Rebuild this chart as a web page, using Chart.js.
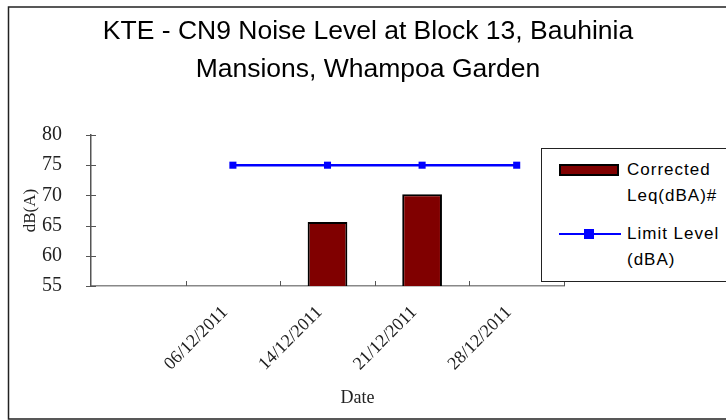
<!DOCTYPE html>
<html>
<head>
<meta charset="utf-8">
<script src="https://cdn.jsdelivr.net/npm/chart.js@4"></script>
<style>
  body { margin: 0; background: #fff; }
  #wrap { position: relative; width: 726px; height: 420px; overflow: hidden; }
  #legend {
    position: absolute; left: 541px; top: 148px; width: 200px; height: 134px;
    border: 1px solid #222; box-sizing: border-box; background: #fff;
    font-family: "Liberation Sans", Arial, sans-serif; font-size: 17px; letter-spacing: 1px; color: #000;
  }
  .item { position: absolute; left: 0; }
  .txt { position: absolute; left: 85px; top: 0; line-height: 26px; white-space: nowrap; }
  .bar { position: absolute; left: 17px; top: 7px; width: 56px; height: 8px; background: #800000; border: 2px solid #000; }
  .line { position: absolute; left: 17px; top: 12px; width: 62px; height: 2px; background: #0000ff; }
  .mark { position: absolute; left: 25px; top: -4px; width: 10px; height: 10px; background: #0000ff; }
</style>
</head>
<body>
<div id="wrap">
  <canvas id="noise-chart" width="726" height="420"></canvas>
  <div id="legend">
    <div class="item" style="top:8px"><div class="bar"></div><div class="txt">Corrected<br>Leq(dBA)#</div></div>
    <div class="item" style="top:72px"><div class="line"><div class="mark"></div></div><div class="txt">Limit Level<br>(dBA)</div></div>
  </div>
</div>
<script>
// Chart data
const dates = ['', '06/12/2011', '14/12/2011', '21/12/2011', '28/12/2011'];
const correctedLeq = [null, null, 65.6, 70.2, null];
const limitLevel = [null, 75, 75, 75, 75];
const titleLines = ['KTE - CN9 Noise Level at Block 13, Bauhinia', 'Mansions, Whampoa Garden'];

// outer frame, tick marks and the x axis title
const framePlugin = {
    id: 'frame',
    beforeDraw(chart) {
        const ctx = chart.ctx;
        ctx.save();
        ctx.strokeStyle = '#222';
        ctx.lineWidth = 1.5;
        ctx.beginPath();
        ctx.moveTo(740, 7);
        ctx.lineTo(8.5, 7);
        ctx.lineTo(8.5, 419);
        ctx.lineTo(740, 419);
        ctx.stroke();
        ctx.restore();
    },
    afterDraw(chart) {
        const ctx = chart.ctx;
        const x = chart.scales.x;
        const y = chart.scales.y;
        const area = chart.chartArea;
        ctx.save();
        ctx.strokeStyle = '#555';
        ctx.lineWidth = 1;
        ctx.beginPath();
        y.ticks.forEach(t => {
            const py = Math.round(y.getPixelForValue(t.value)) + 0.5;
            ctx.moveTo(area.left - 5, py);
            ctx.lineTo(area.left + 5, py);
        });
        const half = (x.getPixelForValue(1) - x.getPixelForValue(0)) / 2;
        for (let i = 0; i < dates.length; i++) {
            const px = Math.round(x.getPixelForValue(i) + half) + 0.5;
            ctx.moveTo(px, area.bottom);
            ctx.lineTo(px, area.bottom - 5);
        }
        ctx.stroke();
        ctx.fillStyle = '#222';
        ctx.font = '18px "Liberation Serif", serif';
        ctx.textAlign = 'center';
        ctx.textBaseline = 'middle';
        ctx.fillText('Date', (area.left + area.right) / 2 + 30, 398);
        ctx.restore();
    }
};

function initializeChart() {
    const ctx = document.getElementById('noise-chart').getContext('2d');
    new Chart(ctx, {
        type: 'bar',
        data: {
            labels: dates,
            datasets: [{
                type: 'line',
                label: 'Limit Level (dBA)',
                data: limitLevel,
                borderColor: '#0000ff',
                backgroundColor: '#0000ff',
                borderWidth: 2.5,
                pointStyle: 'rect',
                pointRadius: 5,
                pointBackgroundColor: '#0000ff',
                pointBorderWidth: 0,
                order: 0
            }, {
                type: 'bar',
                label: 'Corrected Leq(dBA)#',
                data: correctedLeq,
                backgroundColor: '#800000',
                borderColor: '#000',
                borderWidth: 2,
                borderSkipped: false,
                barPercentage: 0.42,
                categoryPercentage: 1,
                order: 1
            }]
        },
        options: {
            responsive: false,
            animation: false,
            layout: { padding: { left: 10 } },
            plugins: {
                legend: { display: false },
                tooltip: { enabled: false },
                title: {
                    display: true,
                    text: titleLines,
                    color: '#000',
                    font: { family: '"Liberation Sans", Arial, sans-serif', size: 26.5, weight: 'normal', lineHeight: 1.434 },
                    padding: { top: 13, bottom: 46 }
                }
            },
            scales: {
                x: {
                    grid: { display: false },
                    border: { color: '#888', width: 1.5 },
                    ticks: {
                        color: '#222',
                        maxRotation: 45,
                        minRotation: 45,
                        padding: 8,
                        labelOffset: -8,
                        font: { family: '"Liberation Serif", serif', size: 18 }
                    },
                    afterFit(scale) { scale.height = 134; }
                },
                y: {
                    min: 55,
                    max: 80,
                    grid: { display: false },
                    border: { color: '#555', width: 1.5 },
                    ticks: {
                        stepSize: 5,
                        color: '#222',
                        padding: 21,
                        font: { family: '"Liberation Serif", serif', size: 20 }
                    },
                    title: {
                        display: true,
                        text: 'dB(A)',
                        color: '#222',
                        padding: { top: 10 },
                        font: { family: '"Liberation Serif", serif', size: 17 }
                    },
                    afterFit(scale) { scale.width = 81; }
                },
                spacer: {
                    type: 'linear',
                    position: 'right',
                    display: true,
                    grid: { display: false },
                    border: { display: false },
                    ticks: { display: false },
                    afterFit(scale) { scale.width = 162; }
                }
            }
        },
        plugins: [framePlugin]
    });
}

window.onload = initializeChart;
</script>
</body>
</html>
